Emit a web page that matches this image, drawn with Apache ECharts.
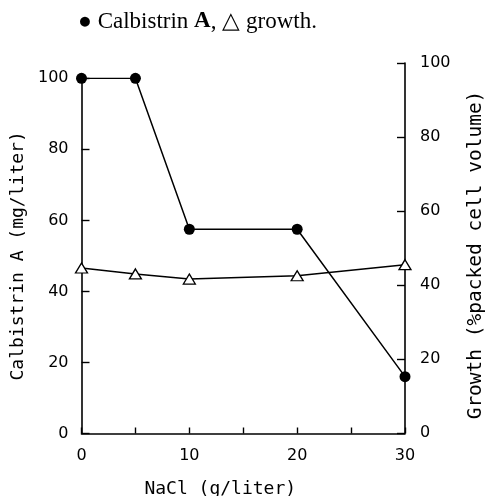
<!DOCTYPE html>
<html>
<head>
<meta charset="utf-8">
<script src="https://cdn.jsdelivr.net/npm/echarts@6/dist/echarts.min.js"></script>
<style>html,body{margin:0;padding:0;background:#fff;}#c{width:489px;height:496px;}</style>
</head>
<body>
<div id="c"></div>
<script>
const nacl = [0, 5, 10, 20, 30];
const calbistrin = [100, 100, 57.5, 57.5, 16];
const growth = [44.6, 43.0, 41.6, 42.5, 45.5];
const xTicks = [0, 10, 20, 30];
const yTicks = [0, 20, 40, 60, 80, 100];

const chart = echarts.init(document.getElementById('c'), null, {renderer: 'canvas'});
const tickFont = {fontFamily: 'DejaVu Sans', fontSize: 16, color: '#000'};
const nameFont = {fontFamily: 'DejaVu Sans Mono', fontSize: 18, color: '#000'};
const axLine = {show: true, onZero: false, lineStyle: {color: '#000', width: 1.6}};

chart.setOption({
  animation: false,
  backgroundColor: '#fff',
  title: {
    text: '● Calbistrin {b|A}, △ growth.',
    left: 73, top: 5,
    textStyle: {
      fontFamily: 'Liberation Serif', fontSize: 23, fontWeight: 'normal', color: '#000',
      rich: {b: {fontFamily: 'Liberation Serif', fontSize: 23, fontWeight: 'bold', color: '#000'}}
    }
  },
  grid: [
    {left: 81.5, right: 84, top: 78.3, bottom: 62.5, containLabel: false, outerBoundsMode: 'none'},
    {left: 81.5, right: 84, top: 63, bottom: 63, containLabel: false, outerBoundsMode: 'none'}
  ],
  xAxis: [
    {
      gridIndex: 0, type: 'value', min: 0, max: 30, interval: 5,
      axisLine: axLine,
      axisTick: {show: true, inside: true, length: 6, lineStyle: {color: '#000', width: 1.4}},
      axisLabel: Object.assign({margin: 14, formatter: v => (xTicks.indexOf(v) >= 0 ? String(v) : '')}, tickFont),
      splitLine: {show: false},
      name: 'NaCl (g/liter)', nameLocation: 'middle', nameGap: 47,
      nameTextStyle: Object.assign({padding: [0, 46, 0, 0]}, nameFont)
    },
    {gridIndex: 1, type: 'value', min: 0, max: 30, show: false, splitLine: {show: false}}
  ],
  yAxis: [
    {
      gridIndex: 0, type: 'value', min: 0, max: 100, interval: 20, position: 'left',
      axisLine: axLine,
      axisTick: {show: true, inside: true, length: 8, lineStyle: {color: '#000', width: 1.4}},
      axisLabel: Object.assign({margin: 13, formatter: v => (yTicks.indexOf(v) >= 0 ? String(v) : '')}, tickFont),
      splitLine: {show: false},
      name: 'Calbistrin A (mg/liter)', nameLocation: 'middle', nameGap: 54, nameRotate: 90,
      nameTextStyle: nameFont
    },
    {
      gridIndex: 1, type: 'value', min: 0, max: 100, interval: 20, position: 'right',
      axisLine: axLine,
      axisTick: {show: true, inside: true, length: 8, lineStyle: {color: '#000', width: 1.4}},
      axisLabel: Object.assign({margin: 15, formatter: v => (yTicks.indexOf(v) >= 0 ? String(v) : '')}, tickFont),
      splitLine: {show: false},
      name: 'Growth (%packed cell volume)', nameLocation: 'middle', nameGap: 61, nameRotate: 90,
      nameTextStyle: Object.assign({padding: [0, 14, 0, 0]}, nameFont, {fontSize: 19.5})
    }
  ],
  series: [
    {
      type: 'line', xAxisIndex: 1, yAxisIndex: 1,
      data: nacl.map((x, i) => [x, growth[i]]),
      symbol: 'triangle', symbolSize: [12, 10],
      lineStyle: {color: '#000', width: 1.5},
      itemStyle: {color: '#fff', borderColor: '#000', borderWidth: 1.3},
      z: 3
    },
    {
      type: 'line', xAxisIndex: 0, yAxisIndex: 0,
      data: nacl.map((x, i) => [x, calbistrin[i]]),
      symbol: 'circle', symbolSize: 11,
      lineStyle: {color: '#000', width: 1.5},
      itemStyle: {color: '#000', borderColor: '#000', borderWidth: 0},
      z: 4
    }
  ]
});
</script>
</body>
</html>
